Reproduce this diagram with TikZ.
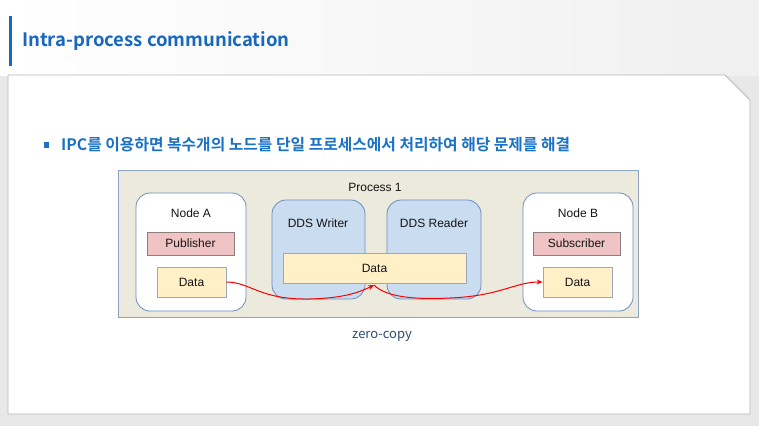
\documentclass[tikz,border=0pt]{standalone}
\usepackage{fontspec}
\setmainfont{Liberation Sans}
\newfontfamily\krfont{Noto Sans CJK KR}
\newfontfamily\krbold{Noto Sans CJK KR Bold}
\usetikzlibrary{arrows.meta}
\definecolor{titleblue}{HTML}{1768BE}
\definecolor{bulletblue}{HTML}{1A72C6}
\definecolor{procfill}{HTML}{ECE9DD}
\definecolor{procline}{HTML}{8FA3C2}
\definecolor{nodeline}{HTML}{6C8EBF}
\definecolor{ddsfill}{HTML}{C9DCF0}
\definecolor{pubfill}{HTML}{F0C4C4}
\definecolor{publine}{HTML}{8C7E7E}
\definecolor{datafill}{HTML}{FFF0C8}
\definecolor{dataline}{HTML}{9AA8BE}
\definecolor{zcblue}{HTML}{2E4E70}
\tikzset{
  x=1pt,y=-1pt,
  lbl/.style={font=\fontsize{12}{14}\selectfont, text=black!92, inner sep=0pt},
  nodebox/.style={draw=nodeline, fill=white, rounded corners=14pt, line width=0.8pt},
  ddsbox/.style={draw=nodeline, fill=ddsfill, rounded corners=14pt, line width=0.8pt},
  pubbox/.style={draw=publine, fill=pubfill, line width=0.8pt, lbl},
  databox/.style={draw=dataline, fill=datafill, line width=0.8pt, lbl},
  redarrow/.style={draw=red, line width=1pt, -{Stealth[length=6pt,width=5pt]}},
}
\begin{document}
\begin{tikzpicture}
\useasboundingbox (0,0) rectangle (759,426);
% background
\fill[black!9] (0,0) rectangle (759,426);
\shade[left color=white, right color=black!6] (0,0) rectangle (759,75);
% panel
\filldraw[fill=white, draw=black!28, line width=0.8pt] (8,75) -- (725,75) -- (750,100) -- (750,414) -- (8,414) -- cycle;
% title
\fill[titleblue] (9,16) rectangle (12,66);
\node[anchor=west, inner sep=0pt, text=titleblue, font=\krbold\fontsize{18.5}{22}\selectfont] (title) at (22,41) {Intra-process communication};
% bullet
\fill[bulletblue] (44,142) rectangle (49,148);
\node[anchor=west, inner sep=0pt, text=bulletblue, font=\krbold\fontsize{15.8}{18}\selectfont] (bullet) at (61,145) {IPC를 이용하면 복수개의 노드를 단일 프로세스에서 처리하여 해당 문제를 해결};
% process
\draw[fill=procfill, draw=procline, line width=0.9pt] (118,170) rectangle (638,317);
\node[lbl] (proc) at (375,187) {Process 1};
% node A
\path[nodebox] (136,193) rectangle (246,311);
\node[lbl] (nodeA) at (191,213) {Node A};
\node[pubbox, minimum width=87pt, minimum height=23pt] (pub) at (190.5,243.5) {Publisher};
\node[databox, minimum width=69pt, minimum height=30pt] (dataA) at (191.5,282) {Data};
% DDS writer / reader
\path[ddsbox] (272,200) rectangle (365,299);
\node[lbl] (writer) at (318,223) {DDS Writer};
\path[ddsbox] (387,200) rectangle (481,299);
\node[lbl] (reader) at (434,223) {DDS Reader};
\node[databox, minimum width=183pt, minimum height=30pt] (dataM) at (374.5,268) {Data};
% node B
\path[nodebox] (523,193) rectangle (633,311);
\node[lbl] (nodeB) at (578,213) {Node B};
\node[pubbox, minimum width=87pt, minimum height=23pt] (sub) at (576.5,243.5) {Subscriber};
\node[databox, minimum width=69pt, minimum height=30pt] (dataB) at (577.5,282) {Data};
% arrows
\coordinate (mid) at (374,285);
\draw[redarrow] (dataA.east) .. controls (250,282) and (260,300) .. (310,299) .. controls (345,298) and (360,292) .. (mid);
\draw[redarrow] (mid) .. controls (385,296) and (410,300) .. (450,298) .. controls (500,296) and (515,282) .. (dataB.west);
% zero-copy
\node[inner sep=0pt, text=zcblue, font=\krfont\fontsize{13}{15}\selectfont] (zc) at (382,336) {zero-copy};
\end{tikzpicture}
\end{document}
